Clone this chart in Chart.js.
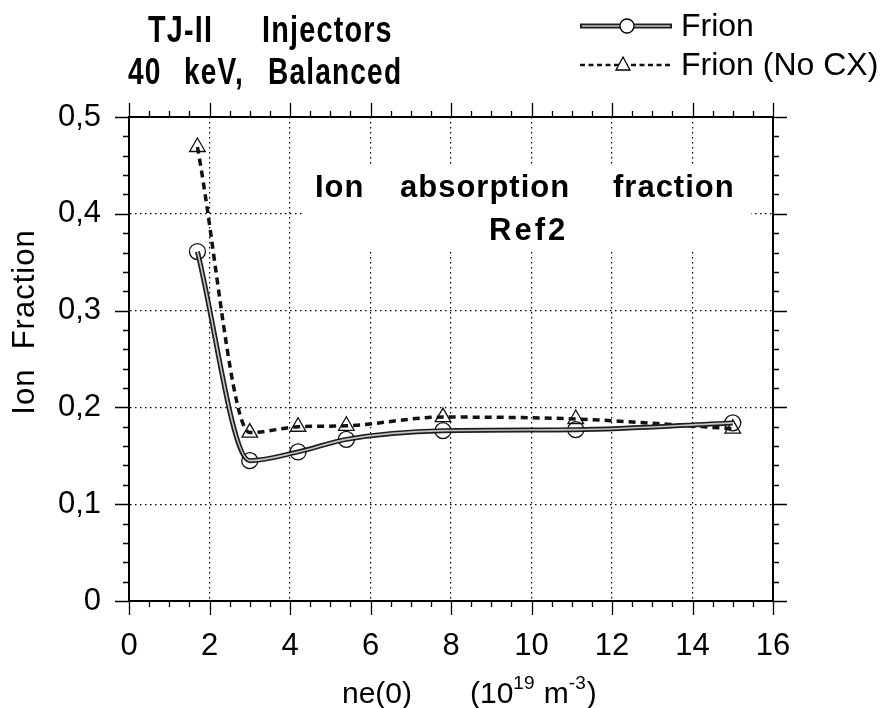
<!DOCTYPE html>
<html>
<head>
<meta charset="utf-8">
<title>TJ-II Injectors - Ion Fraction</title>
<script src="https://cdn.jsdelivr.net/npm/chart.js@4.4.1/dist/chart.umd.min.js"></script>
<style>
  html, body { margin: 0; padding: 0; background: #fff; }
  #wrap { width: 884px; height: 708px; }
</style>
</head>
<body>
<div id="wrap"><canvas id="chart" width="884" height="708"></canvas></div>
<script>
// values
const neFrion = [1.7, 3.0, 4.2, 5.4, 7.8, 11.1, 15.0];
const fracFrion = [0.361, 0.145, 0.154, 0.167, 0.176, 0.177, 0.184];
const neNoCX = [1.7, 3.0, 4.2, 5.4, 7.8, 11.1, 15.0];
const fracNoCX = [0.469, 0.174, 0.180, 0.181, 0.190, 0.188, 0.178];

const seriesLabels = ['Frion', 'Frion (No CX)'];
const titleWords = [['TJ-II', 'Injectors'], ['40', 'keV,', 'Balanced']];
const noteWords = [['Ion', 'absorption', 'fraction'], ['Ref2']];
const yTitle = 'Ion  Fraction';

const xMin = 0, xMax = 16, xMajor = 2, xMinor = 0.5;
const yMin = 0, yMax = 0.5, yMajor = 0.1, yMinor = 0.02;

const FONT = "'Liberation Sans', Arial, Helvetica, sans-serif";

function toPoints(xs, ys) {
  return xs.map((v, i) => ({x: v, y: ys[i]}));
}
function isMajorX(v) {
  return Math.abs(v / xMajor - Math.round(v / xMajor)) < 1e-6;
}
function isMajorY(v) {
  return Math.abs(v / yMajor - Math.round(v / yMajor)) < 1e-6;
}

// draws words at given left positions, squeezed horizontally
function drawWords(ctx, words, lefts, base, squeeze) {
  words.forEach((w, i) => {
    ctx.save();
    ctx.translate(lefts[i], base);
    ctx.scale(squeeze, 1);
    ctx.fillText(w, 0, 0);
    ctx.restore();
  });
}

// white box with the note, on top of the grid
const notePlugin = {
  id: 'note',
  beforeDatasetsDraw(chart) {
    const {ctx} = chart;
    ctx.save();
    ctx.fillStyle = '#fff';
    ctx.fillRect(305, 164, 446, 88);
    ctx.fillStyle = '#000';
    ctx.font = 'bold 31px ' + FONT;
    ctx.letterSpacing = '1px';
    ctx.textAlign = 'left';
    ctx.textBaseline = 'alphabetic';
    drawWords(ctx, noteWords[0], [315, 400, 613], 197, 1);
    ctx.letterSpacing = '3px';
    drawWords(ctx, noteWords[1], [489], 240, 1);
    ctx.restore();
  }
};

// frame and tick marks on all four sides, titles, legend
const framePlugin = {
  id: 'frame',
  afterDraw(chart) {
    const {ctx, chartArea: a, scales: {x, y}} = chart;
    ctx.save();
    ctx.strokeStyle = '#000';
    ctx.lineWidth = 2;
    ctx.strokeRect(a.left, a.top, a.right - a.left, a.bottom - a.top);
    ctx.lineWidth = 1.3;
    ctx.beginPath();
    x.ticks.forEach(t => {
      const px = Math.round(x.getPixelForValue(t.value)) + 0.5;
      const len = isMajorX(t.value) ? 14 : 6;
      ctx.moveTo(px, a.bottom); ctx.lineTo(px, a.bottom + len);
      ctx.moveTo(px, a.top); ctx.lineTo(px, a.top - len);
    });
    y.ticks.forEach(t => {
      const py = Math.round(y.getPixelForValue(t.value)) + 0.5;
      const len = isMajorY(t.value) ? 14 : 6;
      ctx.moveTo(a.left, py); ctx.lineTo(a.left - len, py);
      ctx.moveTo(a.right, py); ctx.lineTo(a.right + len, py);
    });
    ctx.stroke();

    // chart title
    ctx.fillStyle = '#000';
    ctx.font = 'bold 36px ' + FONT;
    ctx.letterSpacing = '1.5px';
    ctx.textAlign = 'left';
    ctx.textBaseline = 'alphabetic';
    drawWords(ctx, titleWords[0], [148, 262], 42, 0.8);
    drawWords(ctx, titleWords[1], [128, 184, 268], 84, 0.78);

    // y title
    ctx.font = '31px ' + FONT;
    ctx.letterSpacing = '1px';
    ctx.textAlign = 'center';
    ctx.save();
    ctx.translate(34, 322);
    ctx.rotate(-Math.PI / 2);
    ctx.fillText(yTitle, 0, 0);
    ctx.restore();

    // x title with superscripts
    ctx.letterSpacing = '0px';
    ctx.textAlign = 'left';
    const base = 703;
    ctx.font = '30px ' + FONT;
    ctx.fillText('ne(0)', 342, base);
    let cx = 470;
    const parts = [['(10', false], ['19', true], [' m', false], ['-3', true], [')', false]];
    parts.forEach(([s, sup]) => {
      ctx.font = (sup ? '19px ' : '30px ') + FONT;
      ctx.fillText(s, cx, sup ? base - 14 : base);
      cx += ctx.measureText(s).width + (sup ? 1 : 0);
    });

    // legend
    const ds = chart.data.datasets;
    const rows = [
      {y: 26, ds: ds[1], inner: ds[0], x0: 580, x1: 672, mx: 627},
      {y: 65, ds: ds[2], inner: null, x0: 580, x1: 672, mx: 623}
    ];
    rows.forEach((r, i) => {
      ctx.save();
      ctx.strokeStyle = r.ds.borderColor;
      ctx.setLineDash(i === 1 ? [5, 3.5] : []);
      ctx.lineWidth = i === 1 ? 2.5 : r.ds.borderWidth;
      ctx.beginPath(); ctx.moveTo(r.x0, r.y); ctx.lineTo(r.x1, r.y); ctx.stroke();
      if (r.inner) {
        ctx.lineWidth = r.inner.borderWidth;
        ctx.strokeStyle = r.inner.borderColor;
        ctx.beginPath(); ctx.moveTo(r.x0 + 2, r.y); ctx.lineTo(r.x1 - 2, r.y); ctx.stroke();
      }
      ctx.setLineDash([]);
      ctx.fillStyle = '#fff';
      ctx.strokeStyle = '#000';
      ctx.lineWidth = 1.3;
      ctx.beginPath();
      if (i === 0) {
        ctx.arc(r.mx, r.y, 7, 0, Math.PI * 2);
      } else {
        ctx.moveTo(r.mx, r.y - 8); ctx.lineTo(r.mx + 7, r.y + 5); ctx.lineTo(r.mx - 7, r.y + 5); ctx.closePath();
      }
      ctx.fill(); ctx.stroke();
      ctx.fillStyle = '#000';
      ctx.font = '32px ' + FONT;
      ctx.textAlign = 'left';
      ctx.textBaseline = 'middle';
      ctx.fillText(seriesLabels[i], 681, r.y + 1);
      ctx.restore();
    });
    ctx.restore();
  }
};

Chart.defaults.font.family = FONT;
Chart.defaults.color = '#000';

const chart = new Chart(document.getElementById('chart'), {
  type: 'line',
  data: {
    datasets: [
      {
        label: 'Frion inner',
        data: toPoints(neFrion, fracFrion),
        borderColor: '#c4c4c4',
        borderWidth: 1.6,
        pointRadius: 0,
        cubicInterpolationMode: 'monotone',
        order: 0
      },
      {
        label: seriesLabels[0],
        data: toPoints(neFrion, fracFrion),
        borderColor: '#1e1e1e',
        borderWidth: 5,
        pointStyle: 'circle',
        pointRadius: 8,
        pointBorderWidth: 1.3,
        pointBorderColor: '#111',
        pointBackgroundColor: 'rgba(0,0,0,0)',
        cubicInterpolationMode: 'monotone',
        order: 1
      },
      {
        label: seriesLabels[1],
        data: toPoints(neNoCX, fracNoCX),
        borderColor: '#111',
        borderWidth: 3.5,
        borderDash: [7, 5],
        pointStyle: 'triangle',
        pointRadius: 9,
        pointBorderWidth: 1.3,
        pointBorderColor: '#111',
        pointBackgroundColor: 'rgba(0,0,0,0)',
        cubicInterpolationMode: 'monotone',
        order: 2
      }
    ]
  },
  options: {
    responsive: false,
    animation: false,
    layout: {padding: {top: 117, right: 111, left: 0, bottom: 0}},
    plugins: {legend: {display: false}, tooltip: {enabled: false}, title: {display: false}},
    scales: {
      x: {
        type: 'linear',
        min: xMin, max: xMax,
        afterFit: s => { s.height = 107; },
        border: {display: true, color: '#000', width: 2, dash: [1.5, 3.5]},
        grid: {
          drawTicks: false,
          lineWidth: 1.2,
          color: c => (isMajorX(c.tick.value) && c.tick.value > xMin && c.tick.value < xMax) ? '#000' : 'rgba(0,0,0,0)'
        },
        ticks: {
          stepSize: xMinor,
          autoSkip: false,
          maxRotation: 0,
          maxTicksLimit: 100,
          padding: 27,
          font: {size: 31},
          callback: v => isMajorX(v) ? String(Math.round(v)) : ''
        }
      },
      y: {
        type: 'linear',
        min: yMin, max: yMax,
        afterFit: s => { s.width = 129; },
        border: {display: true, color: '#000', width: 2, dash: [1.5, 3.5]},
        grid: {
          drawTicks: false,
          lineWidth: 1.2,
          color: c => (isMajorY(c.tick.value) && c.tick.value > yMin + 1e-6 && c.tick.value < yMax - 1e-6) ? '#000' : 'rgba(0,0,0,0)'
        },
        ticks: {
          stepSize: yMinor,
          autoSkip: false,
          maxTicksLimit: 100,
          padding: 28,
          font: {size: 31},
          callback: v => {
            if (!isMajorY(v)) return '';
            const r = Math.round(v * 10) / 10;
            return r === 0 ? '0' : r.toFixed(1).replace('.', ',');
          }
        }
      }
    }
  },
  plugins: [notePlugin, framePlugin]
});
</script>
</body>
</html>
